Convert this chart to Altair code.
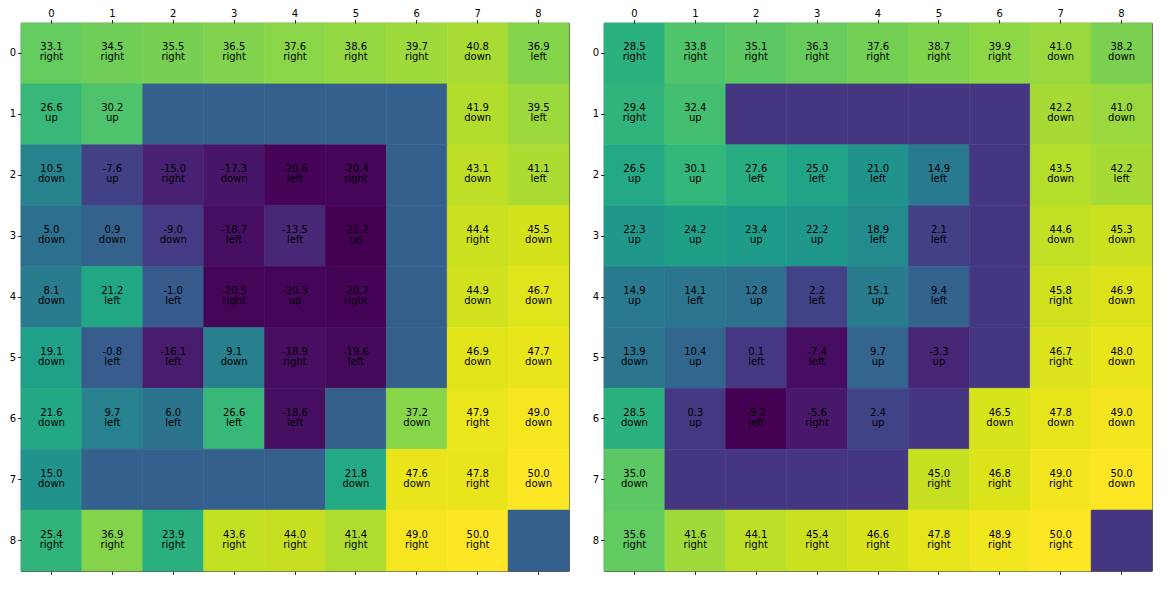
import altair as alt
import pandas as pd

# Left grid: state values (walls drawn as 0.0 with no label)
values_left = [
    [33.1, 34.5, 35.5, 36.5, 37.6, 38.6, 39.7, 40.8, 36.9],
    [26.6, 30.2, 0.0, 0.0, 0.0, 0.0, 0.0, 41.9, 39.5],
    [10.5, -7.6, -15.0, -17.3, -20.6, -20.4, 0.0, 43.1, 41.1],
    [5.0, 0.9, -9.0, -18.7, -13.5, -21.2, 0.0, 44.4, 45.5],
    [8.1, 21.2, -1.0, -20.5, -20.3, -20.7, 0.0, 44.9, 46.7],
    [19.1, -0.8, -16.1, 9.1, -18.9, -19.6, 0.0, 46.9, 47.7],
    [21.6, 9.7, 6.0, 26.6, -18.6, 0.0, 37.2, 47.9, 49.0],
    [15.0, 0.0, 0.0, 0.0, 0.0, 21.8, 47.6, 47.8, 50.0],
    [25.4, 36.9, 23.9, 43.6, 44.0, 41.4, 49.0, 50.0, 0.0],
]
actions_left = [
    ["right", "right", "right", "right", "right", "right", "right", "down", "left"],
    ["up", "up", "", "", "", "", "", "down", "left"],
    ["down", "up", "right", "down", "left", "right", "", "down", "left"],
    ["down", "down", "down", "left", "left", "up", "", "right", "down"],
    ["down", "left", "left", "right", "up", "right", "", "down", "down"],
    ["down", "left", "left", "down", "right", "left", "", "down", "down"],
    ["down", "left", "left", "left", "left", "", "down", "right", "down"],
    ["down", "", "", "", "", "down", "down", "right", "down"],
    ["right", "right", "right", "right", "right", "right", "right", "right", ""],
]

# Right grid
values_right = [
    [28.5, 33.8, 35.1, 36.3, 37.6, 38.7, 39.9, 41.0, 38.2],
    [29.4, 32.4, 0.0, 0.0, 0.0, 0.0, 0.0, 42.2, 41.0],
    [26.5, 30.1, 27.6, 25.0, 21.0, 14.9, 0.0, 43.5, 42.2],
    [22.3, 24.2, 23.4, 22.2, 18.9, 2.1, 0.0, 44.6, 45.3],
    [14.9, 14.1, 12.8, 2.2, 15.1, 9.4, 0.0, 45.8, 46.9],
    [13.9, 10.4, 0.1, -7.4, 9.7, -3.3, 0.0, 46.7, 48.0],
    [28.5, 0.3, -9.2, -5.6, 2.4, 0.0, 46.5, 47.8, 49.0],
    [35.0, 0.0, 0.0, 0.0, 0.0, 45.0, 46.8, 49.0, 50.0],
    [35.6, 41.6, 44.1, 45.4, 46.6, 47.8, 48.9, 50.0, 0.0],
]
actions_right = [
    ["right", "right", "right", "right", "right", "right", "right", "down", "down"],
    ["right", "up", "", "", "", "", "", "down", "down"],
    ["up", "up", "left", "left", "left", "left", "", "down", "left"],
    ["up", "up", "up", "up", "left", "left", "", "down", "down"],
    ["up", "left", "up", "left", "up", "left", "", "right", "down"],
    ["down", "up", "left", "left", "up", "up", "", "right", "down"],
    ["down", "up", "left", "right", "up", "", "down", "down", "down"],
    ["down", "", "", "", "", "right", "right", "right", "down"],
    ["right", "right", "right", "right", "right", "right", "right", "right", ""],
]

ticks = list(range(9))
FONT = "DejaVu Sans"


def build_df(values, actions):
    rows = []
    for r, (vrow, arow) in enumerate(zip(values, actions)):
        for c, (v, a) in enumerate(zip(vrow, arow)):
            label = f"{v:.1f}\n{a}" if a else ""
            rows.append({"row": r, "col": c, "value": v, "label": label})
    return pd.DataFrame(rows)


def panel(values, actions):
    df = build_df(values, actions)
    flat = [v for row in values for v in row]
    xscale = alt.Scale(domain=ticks, paddingInner=0, paddingOuter=0)
    yscale = alt.Scale(domain=ticks, paddingInner=0, paddingOuter=0)
    cscale = alt.Scale(scheme="viridis", domain=[min(flat), max(flat)])
    base = alt.Chart(df)
    rect = base.mark_rect(strokeWidth=0.6).encode(
        x=alt.X("col:O", scale=xscale,
                axis=alt.Axis(orient="top", labelAngle=0, title=None, domain=False,
                              labelPadding=1)),
        y=alt.Y("row:O", scale=yscale,
                axis=alt.Axis(orient="left", labelAngle=0, title=None, domain=False)),
        color=alt.Color("value:Q", scale=cscale, legend=None),
        stroke=alt.Stroke("value:Q", scale=cscale, legend=None),
    )
    text = base.mark_text(lineBreak="\n", fontSize=10, font=FONT, color="black",
                          lineHeight=10, baseline="middle", align="center", dy=-6).encode(
        x=alt.X("col:O", scale=xscale,
                axis=alt.Axis(orient="bottom", labels=False, ticks=True, title=None, domain=False)),
        y=alt.Y("row:O", scale=yscale),
        text="label:N",
    )
    return alt.layer(rect, text).resolve_axis(x="independent").properties(width=548, height=548)


chart = alt.hconcat(
    panel(values_left, actions_left),
    panel(values_right, actions_right),
    spacing=21,
).resolve_scale(color="independent", stroke="independent").properties(padding=0).configure_view(
    stroke="black", strokeWidth=0.8
).configure_axis(
    labelFont=FONT, labelFontSize=10, labelColor="black",
    tickColor="black", tickSize=3.5, tickWidth=0.8, labelPadding=2, grid=False,
)

chart.save("out.html", embed_options={"renderer": "svg", "actions": False})
